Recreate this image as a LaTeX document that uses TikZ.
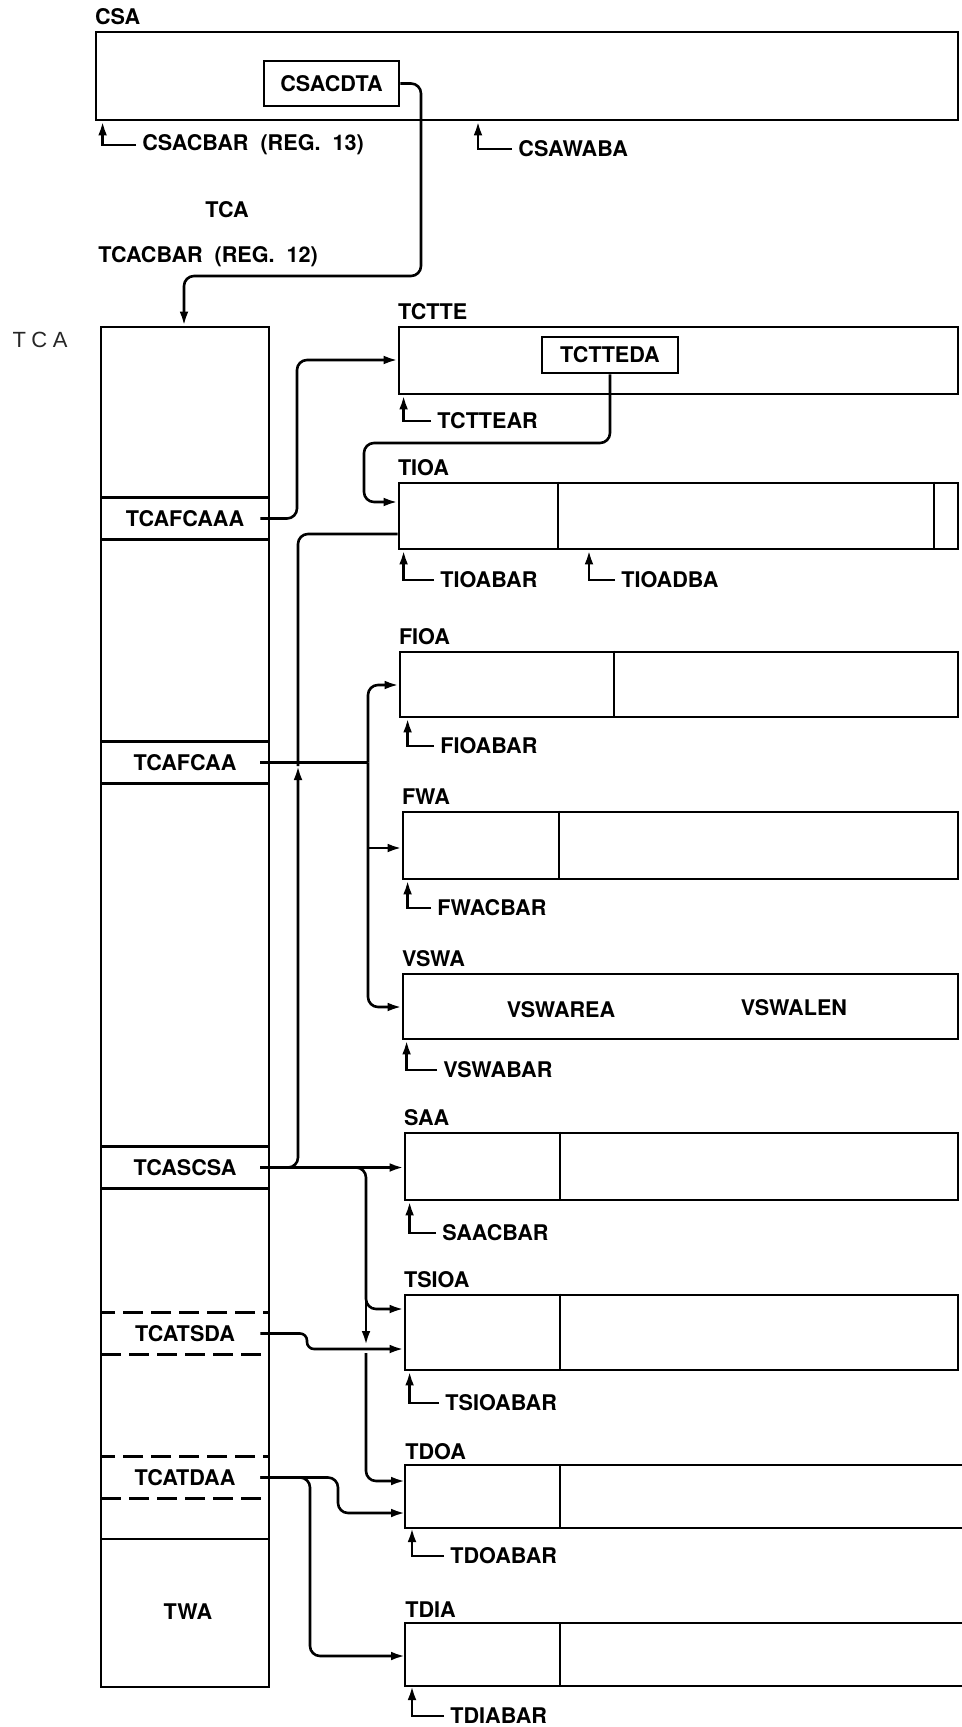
\documentclass[tikz,border=0pt]{standalone}
\usepackage{fontspec}
\setmainfont{TeX Gyre Heros}
\newfontfamily\handfont[LetterSpace=25]{Liberation Sans}
\usetikzlibrary{positioning, arrows.meta, fit}

\begin{document}
\begin{tikzpicture}[
    x=0.5pt, y=-0.5pt,
    >={Latex[length=7pt,width=4.4pt]},
    font=\fontsize{10.8}{12}\selectfont\bfseries,
    area/.style={draw, line width=1.4pt, inner sep=0pt},
    field/.style={draw, line width=1.3pt, inner sep=0pt},
    cell/.style={minimum width=84pt, minimum height=21pt, inner sep=0pt, line width=1.4pt},
    ttl/.style={anchor=base west, inner sep=0pt},
    ptr/.style={anchor=west, inner sep=3pt},
    bar/.style={->, line width=1.3pt},
    link/.style={->, line width=1.3pt, rounded corners=5pt}
]
    \useasboundingbox (0,0) rectangle (962,1727);

    % common system area
    \node[area, fit={(96,32) (958,120)}] (csa) {};
    \node[ttl] at ([yshift=3pt]csa.north west) {CSA};
    \node[field, fit={(264,61) (399,106)}] (csacdta) {};
    \node at (csacdta.center) {CSACDTA};
    \node[ptr] (csacbar) at (136,145) {CSACBAR\ \ (REG.\ \ 13)};
    \draw[bar] (csacbar.west) -| ([xshift=4pt]csa.south west);
    \node[ptr] (csawaba) at (512,149) {CSAWABA};
    \draw[bar] (csawaba.west) -| (478,0 |- csa.south);

    \node (tcaname) at (227,210) {TCA};
    \node[anchor=west, inner sep=0pt] (tcacbar) at (98,257) {TCACBAR\ \ (REG.\ \ 12)};
    \node[font=\handfont\fontsize{11}{13}\selectfont, text=black!85] (tcahand) at (40,340) {TCA};

    % task control area
    \node[area, fit={(101,327) (269,1687)}] (tca) {};
    \node[cell, draw] (tcafcaaa) at (185,518.5) {TCAFCAAA};
    \node[cell, draw] (tcafcaa) at (185,762.5) {TCAFCAA};
    \node[cell, draw] (tcascsa) at (185,1167.5) {TCASCSA};
    \node[cell, draw, dash pattern=on 10pt off 4pt] (tcatsda) at (185,1333.5) {TCATSDA};
    \node[cell, draw, dash pattern=on 10pt off 4pt] (tcatdaa) at (185,1477.5) {TCATDAA};
    \node[area, fit={(101,1539) (269,1687)}] (twa) {};
    \node at (188,1612) {TWA};

    \draw[link] (csacdta.east) -| (421,276) -| (184,0 |- tca.north);

    % terminal table entry
    \node[area, fit={(399,327) (958,394)}] (tctte) {};
    \node[ttl] at ([yshift=3pt]tctte.north west) {TCTTE};
    \node[field, fit={(542,337) (678,373)}] (tctteda) {};
    \node at (tctteda.center) {TCTTEDA};
    \node[ptr] (tctteear) at (431,421) {TCTTEAR};
    \draw[bar] (tctteear.west) -| ([xshift=3pt]tctte.south west);

    % terminal I/O area
    \node[area, fit={(399,483) (958,549)}] (tioa) {};
    \node[ttl] at ([yshift=3pt]tioa.north west) {TIOA};
    \draw[line width=1.2pt] (558,0 |- tioa.north) -- (558,0 |- tioa.south);
    \draw[line width=1.2pt] (934,0 |- tioa.north) -- (934,0 |- tioa.south);
    \node[ptr] (tioabar) at (434,580) {TIOABAR};
    \draw[bar] (tioabar.west) -| ([xshift=3pt]tioa.south west);
    \node[ptr] (tioadba) at (615,580) {TIOADBA};
    \draw[bar] (tioadba.west) -| (589,0 |- tioa.south);

    % file areas
    \node[area, fit={(400,652) (958,717)}] (fioa) {};
    \node[ttl] at ([yshift=3pt]fioa.north west) {FIOA};
    \draw[line width=1.2pt] (614,0 |- fioa.north) -- (614,0 |- fioa.south);
    \node[ptr] (fioabar) at (434,746) {FIOABAR};
    \draw[bar] (fioabar.west) -| ([xshift=4.5pt]fioa.south west);

    \node[area, fit={(403,812) (958,879)}] (fwa) {};
    \node[ttl] at ([yshift=3pt]fwa.north west) {FWA};
    \draw[line width=1.2pt] (559,0 |- fwa.north) -- (559,0 |- fwa.south);
    \node[ptr] (fwacbar) at (431,908) {FWACBAR};
    \draw[bar] (fwacbar.west) -| ([xshift=3pt]fwa.south west);

    \node[area, fit={(403,974) (958,1039)}] (vswa) {};
    \node[ttl] at ([yshift=3pt]vswa.north west) {VSWA};
    \node (vswarea) at (561,1010) {VSWAREA};
    \node (vswalen) at (794,1008) {VSWALEN};
    \node[ptr] (vswabar) at (437,1070) {VSWABAR};
    \draw[bar] (vswabar.west) -| ([xshift=2.5pt]vswa.south west);

    % storage accounting, temp storage, transient data
    \node[area, fit={(405,1133) (958,1200)}] (saa) {};
    \node[ttl] at ([yshift=3pt]saa.north west) {SAA};
    \draw[line width=1.2pt] (560,0 |- saa.north) -- (560,0 |- saa.south);
    \node[ptr] (saacbar) at (436,1233) {SAACBAR};
    \draw[bar] (saacbar.west) -| ([xshift=3pt]saa.south west);

    \node[area, fit={(405,1295) (958,1370)}] (tsioa) {};
    \node[ttl] at ([yshift=3pt]tsioa.north west) {TSIOA};
    \draw[line width=1.2pt] (560,0 |- tsioa.north) -- (560,0 |- tsioa.south);
    \node[ptr] (tsioabar) at (439,1403) {TSIOABAR};
    \draw[bar] (tsioabar.west) -| ([xshift=3pt]tsioa.south west);

    \node[inner sep=0pt, outer sep=0pt, fit={(405,1465) (962,1528)}] (tdoa) {};
    \draw[line width=1.4pt] (tdoa.north east) -- (tdoa.north west) -- (tdoa.south west) -- (tdoa.south east);
    \node[ttl] at ([yshift=3pt]tdoa.north west) {TDOA};
    \draw[line width=1.2pt] (560,0 |- tdoa.north) -- (560,0 |- tdoa.south);
    \node[ptr] (tdoabar) at (444,1556) {TDOABAR};
    \draw[bar] (tdoabar.west) -| ([xshift=3.5pt]tdoa.south west);

    \node[inner sep=0pt, outer sep=0pt, fit={(405,1623) (962,1686)}] (tdia) {};
    \draw[line width=1.4pt] (tdia.north east) -- (tdia.north west) -- (tdia.south west) -- (tdia.south east);
    \node[ttl] at ([yshift=3pt]tdia.north west) {TDIA};
    \draw[line width=1.2pt] (560,0 |- tdia.north) -- (560,0 |- tdia.south);
    \node[ptr] (tdiabar) at (444,1716) {TDIABAR};
    \draw[bar] (tdiabar.west) -| ([xshift=3.5pt]tdia.south west);

    % junction points
    \coordinate (upbend) at (298,766);
    \coordinate (fcbus) at (368,762.5);
    \coordinate (dnhead) at (366,1345);

    % connectors
    \draw[link] ([xshift=-5pt]tcafcaaa.east) -| (297,360) -- (tctte.west |- 0,360);
    \draw[link] (tctteda.south) |- (364,443) |- (tioa.west |- 0,502);

    \draw[link] ([xshift=-5pt]tcascsa.east) -| (upbend);
    \draw[link, -] (upbend) |- (tioa.west |- 0,534);
    \draw[link] ([xshift=-5pt]tcascsa.east) -- (saa.west |- tcascsa.east);
    \draw[link] ([xshift=-5pt]tcascsa.east) -| (366,1309) -- (tsioa.west |- 0,1309);
    \draw[link] (366,1200) -- (dnhead);
    \draw[link] (366,1353) |- (tdoa.west |- 0,1481);

    \draw[link, -] ([xshift=-5pt]tcafcaa.east) -- (fcbus);
    \draw[link] (fcbus) |- (fioa.west |- 0,685);
    \draw[link] (fcbus) |- (vswa.west |- 0,1007);
    \draw[link] (fcbus |- 0,848) -- (fwa.west |- 0,848);

    \draw[link, rounded corners=3.5pt] ([xshift=-5pt]tcatsda.east) -| (307,1349) -- (tsioa.west |- 0,1349);
    \draw[link] ([xshift=-5pt]tcatdaa.east) -| (338,1513) -- (tdoa.west |- 0,1513);
    \draw[link] ([xshift=-5pt]tcatdaa.east) -| (310,1656) -- (tdia.west |- 0,1656);
\end{tikzpicture}
\end{document}
